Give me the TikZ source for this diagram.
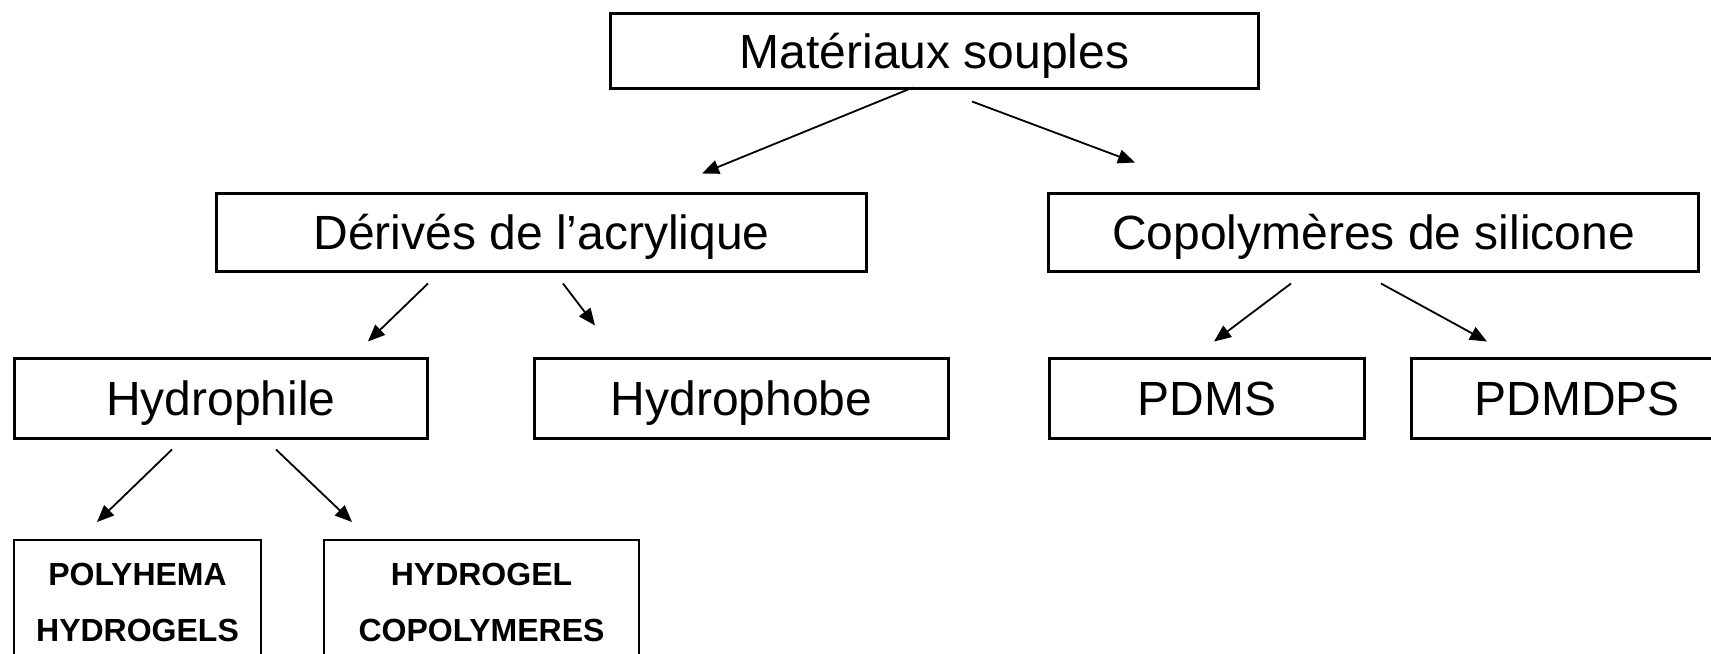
\documentclass[tikz,border=0pt]{standalone}
\usepackage{fontspec}
\setmainfont{Liberation Sans}
\usetikzlibrary{arrows.meta,calc}

\begin{document}
\begin{tikzpicture}[x=0.5pt,y=-0.5pt,box/.style={draw,line width=1.5pt,inner sep=0pt,font=\fontsize{24}{28}\selectfont,text height=17.2pt,text depth=0pt},
smallbox/.style={draw,line width=1pt,inner sep=0pt,align=center,minimum height=62.5pt,font=\bfseries\fontsize{16}{28}\selectfont},
arr/.style={-{Triangle[length=8.5pt,width=7pt]},line width=0.9pt}]
\clip (0,0) rectangle (1711,653);
\node[box,minimum width=324pt,minimum height=37.5pt] (mat) at (934.5,51) {Matériaux souples};
\node[box,minimum width=325pt,minimum height=39pt] (acryl) at (541.5,232.5) {Dérivés de l’acrylique};
\node[box,minimum width=325pt,minimum height=39pt] (silic) at (1373.5,232.5) {Copolymères de silicone};
\node[box,minimum width=206.5pt,minimum height=40pt] (hphil) at (221,398.5) {Hydrophile};
\node[box,minimum width=207pt,minimum height=40pt] (hphob) at (741.5,398.5) {Hydrophobe};
\node[box,minimum width=157.5pt,minimum height=40pt] (pdms) at (1207,398.5) {PDMS};
\node[box,minimum width=165.5pt,minimum height=40pt] (pdmdps) at (1577,398.5) {PDMDPS};
\node[smallbox,minimum width=123.5pt] (phema) at (137.5,602.5) {POLYHEMA\\HYDROGELS};
\node[smallbox,minimum width=157.5pt] (hcopo) at (481.5,602.5) {HYDROGEL\\COPOLYMERES};
\draw[arr] ($(mat.south)+(-21.5,-2.5)$) -- ($(acryl.north)+(160.5,-18.5)$);
\draw[arr] ($(mat.south)+(37.5,11.5)$) -- ($(silic.north)+(-238.5,-29.5)$);
\draw[arr] ($(acryl.south)+(-113.5,10.5)$) -- ($(hphil.north)+(147,-15.5)$);
\draw[arr] ($(acryl.south)+(21.5,10.5)$) -- ($(hphob.north)+(-146.5,-31.5)$);
\draw[arr] ($(silic.south)+(-82.5,10.5)$) -- ($(pdms.north)+(7,-15.5)$);
\draw[arr] ($(silic.south)+(7.5,10.5)$) -- ($(pdmdps.north)+(-90,-15.5)$);
\draw[arr] ($(hphil.south)+(-49,9.5)$) -- ($(phema.north)+(-40.5,-17)$);
\draw[arr] ($(hphil.south)+(55,9.5)$) -- ($(hcopo.north)+(-129.5,-17)$);
\end{tikzpicture}
\end{document}
